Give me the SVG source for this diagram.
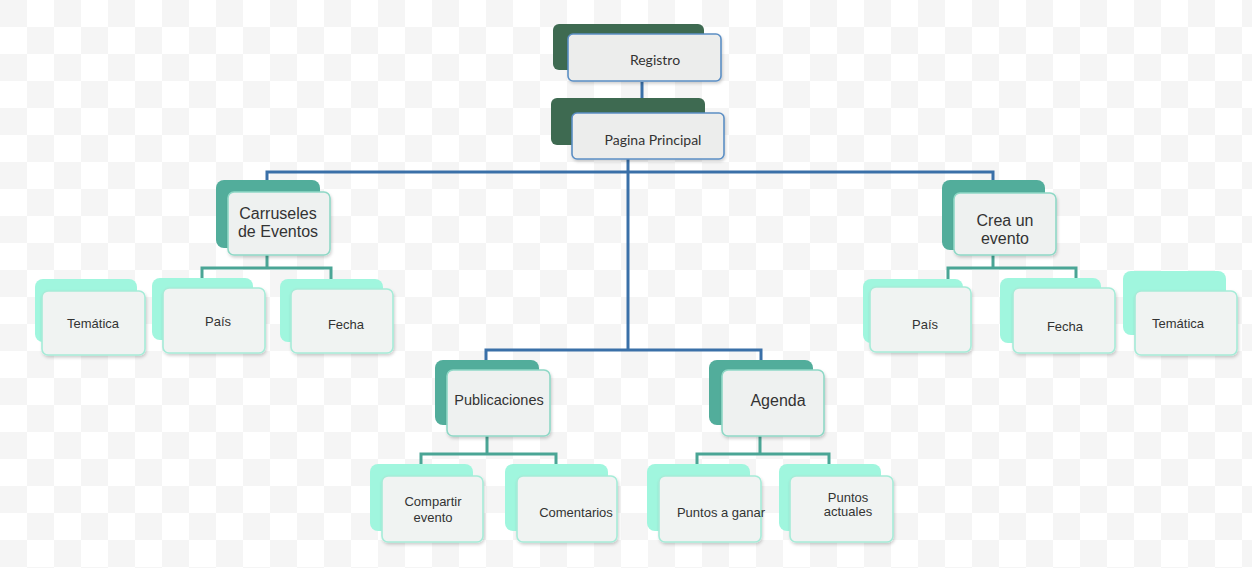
<svg xmlns="http://www.w3.org/2000/svg" width="1252" height="568" viewBox="0 0 1252 568">
<defs>
<pattern id="chk" x="0" y="0" width="54" height="54" patternUnits="userSpaceOnUse">
<rect width="54" height="54" fill="#ffffff"/>
<rect width="27" height="27" fill="#f5f5f5"/>
<rect x="27" y="27" width="27" height="27" fill="#f5f5f5"/>
</pattern>
<filter id="sh" x="-10%" y="-10%" width="130%" height="130%">
<feDropShadow dx="1" dy="2" stdDeviation="1.5" flood-color="#000" flood-opacity="0.18"/>
</filter>
<style>
.bt{fill:#3e6a51}
.bm{fill:#52ad9b}
.bl{fill:#a0f6de}
.ft{fill:#ecedec;stroke:#5b8ec4;stroke-width:1.6;filter:url(#sh)}
.fm{fill:#eef1f0;stroke:#8fd8c6;stroke-width:1.6;filter:url(#sh)}
.fl{fill:#f0f3f2;stroke:#a6ecd8;stroke-width:1.6;filter:url(#sh)}
.cb{fill:none;stroke:#3a70a8;stroke-width:3}
.ct{fill:none;stroke:#4aa595;stroke-width:3}
text{fill:#333333;text-anchor:middle;font-family:"Liberation Sans",Arial,sans-serif}
.tt{font-family:Lato,"Open Sans",sans-serif;font-size:14px}
.tm{font-size:16px}
.tp{font-size:14.5px}
.tl{font-size:13px}
</style>
</defs>
<rect width="1252" height="568" fill="url(#chk)"/>
<g id="connectors">
<path class="cb" d="M642 82 V99"/>
<path class="cb" d="M628 159 V350"/>
<path class="cb" d="M267 182 V172 H993 V182"/>
<path class="cb" d="M486 360 V350 H761 V360"/>
<path class="ct" d="M267 255 V268"/>
<path class="ct" d="M202 279 V268 H331 V279"/>
<path class="ct" d="M993 255 V268"/>
<path class="ct" d="M948 279 V268 H1076 V279"/>
<path class="ct" d="M487 436 V454"/>
<path class="ct" d="M421 465 V454 H556 V465"/>
<path class="ct" d="M760 436 V454"/>
<path class="ct" d="M697 465 V454 H829 V465"/>
</g>
<g id="registro">
<rect class="bt" x="553" y="24" width="151" height="46" rx="6"/>
<rect class="ft" x="568" y="34" width="153" height="47" rx="5"/>
<text class="tt" x="655" y="65">Registro</text>
</g>
<g id="pagina-principal">
<rect class="bt" x="551" y="98" width="154" height="47" rx="6"/>
<rect class="ft" x="572" y="113" width="152" height="46" rx="5"/>
<text class="tt" x="653" y="145">Pagina Principal</text>
</g>
<g id="carruseles">
<rect class="bm" x="216" y="180" width="104" height="68" rx="8"/>
<rect class="fm" x="228" y="192" width="102" height="63" rx="6"/>
<text class="tm" x="278" y="219">Carruseles</text>
<text class="tm" x="278" y="237">de Eventos</text>
</g>
<g id="crea-evento">
<rect class="bm" x="942" y="180" width="103" height="70" rx="8"/>
<rect class="fm" x="954" y="193" width="102" height="62" rx="6"/>
<text class="tm" x="1005" y="226">Crea un</text>
<text class="tm" x="1005" y="244">evento</text>
</g>
<g id="publicaciones">
<rect class="bm" x="435" y="360" width="104" height="65" rx="8"/>
<rect class="fm" x="447" y="370" width="103" height="66" rx="6"/>
<text class="tp" x="499" y="405">Publicaciones</text>
</g>
<g id="agenda">
<rect class="bm" x="709" y="360" width="104" height="65" rx="8"/>
<rect class="fm" x="722" y="370" width="102" height="66" rx="6"/>
<text class="tm" x="778" y="406">Agenda</text>
</g>
<g id="tematica-1">
<rect class="bl" x="35" y="279" width="102" height="63" rx="8"/>
<rect class="fl" x="42" y="291" width="103" height="64" rx="6"/>
<text class="tl" x="93" y="328">Temática</text>
</g>
<g id="pais-1">
<rect class="bl" x="152" y="278" width="101" height="62" rx="8"/>
<rect class="fl" x="163" y="288" width="102" height="65" rx="6"/>
<text class="tl" x="218" y="326">País</text>
</g>
<g id="fecha-1">
<rect class="bl" x="280" y="279" width="103" height="63" rx="8"/>
<rect class="fl" x="291" y="289" width="102" height="64" rx="6"/>
<text class="tl" x="346" y="329">Fecha</text>
</g>
<g id="pais-2">
<rect class="bl" x="863" y="279" width="100" height="64" rx="8"/>
<rect class="fl" x="870" y="287" width="101" height="65" rx="6"/>
<text class="tl" x="925" y="329">País</text>
</g>
<g id="fecha-2">
<rect class="bl" x="1000" y="278" width="101" height="65" rx="8"/>
<rect class="fl" x="1013" y="288" width="102" height="65" rx="6"/>
<text class="tl" x="1065" y="331">Fecha</text>
</g>
<g id="tematica-2">
<rect class="bl" x="1123" y="271" width="103" height="64" rx="8"/>
<rect class="fl" x="1135" y="291" width="102" height="64" rx="6"/>
<text class="tl" x="1178" y="328">Temática</text>
</g>
<g id="compartir">
<rect class="bl" x="370" y="464" width="103" height="67" rx="8"/>
<rect class="fl" x="382" y="476" width="101" height="66" rx="6"/>
<text class="tl" x="433" y="506">Compartir</text>
<text class="tl" x="433" y="522">evento</text>
</g>
<g id="comentarios">
<rect class="bl" x="505" y="464" width="103" height="67" rx="8"/>
<rect class="fl" x="517" y="476" width="100" height="66" rx="6"/>
<text class="tl" x="576" y="517">Comentarios</text>
</g>
<g id="puntos-ganar">
<rect class="bl" x="647" y="464" width="103" height="67" rx="8"/>
<rect class="fl" x="659" y="476" width="102" height="66" rx="6"/>
<text class="tl" x="721" y="517">Puntos a ganar</text>
</g>
<g id="puntos-actuales">
<rect class="bl" x="779" y="464" width="102" height="67" rx="8"/>
<rect class="fl" x="790" y="476" width="103" height="66" rx="6"/>
<text class="tl" x="848" y="502">Puntos</text>
<text class="tl" x="848" y="516">actuales</text>
</g>
</svg>
